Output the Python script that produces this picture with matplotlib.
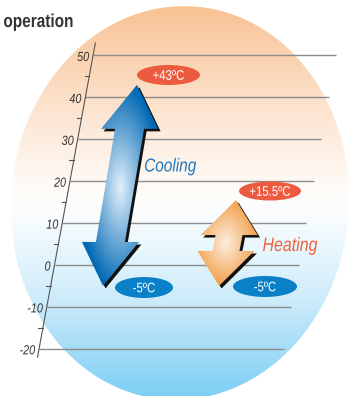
import numpy as np
import matplotlib
matplotlib.use("Agg")
import matplotlib.pyplot as plt
from matplotlib.patches import Polygon, Ellipse, PathPatch
from matplotlib.textpath import TextPath
from matplotlib.font_manager import FontProperties
from matplotlib.transforms import Affine2D

# ---- data ----
temp_ticks = [-20, -10, 0, 10, 20, 30, 40, 50]
minor_ticks = [-15, -5, 5, 15, 25, 35, 45]
cooling_range = [-5, 43]
heating_range = [-5, 15.5]
mode_labels = ["Cooling", "Heating"]
title = "operation"

plt.rcParams["font.family"] = ["Liberation Sans", "DejaVu Sans"]

W, H = 348, 396
PX = 4.19        # pixels per degree
ZERO_Y = 265     # pixel row of 0 degC
t_lo = (ZERO_Y - H) / PX
t_hi = ZERO_Y / PX


def axis_x(t):
    return 54.5 + 0.771 * np.asarray(t, dtype=float)


def grid_end(t):
    return 298.5 + 0.75 * np.asarray(t, dtype=float)


fig = plt.figure(figsize=(W / 100, H / 100), dpi=100)
fig.patch.set_facecolor("white")


def ntext(xy, s, size, ha="left", va="baseline", sx=0.82, weight="normal",
          style="normal", color="black", z=10):
    """condensed text: glyph outlines squeezed horizontally, xy in display px"""
    fp = FontProperties(family="Liberation Sans", weight=weight, style=style)
    tp = TextPath((0, 0), s, size=size, prop=fp)
    ext = tp.get_extents()
    ox = {"left": ext.x0, "center": (ext.x0 + ext.x1) / 2, "right": ext.x1}[ha]
    oy = {"baseline": 0, "center": (ext.y0 + ext.y1) / 2}[va]
    k = fig.dpi / 72
    tr = Affine2D().translate(-ox, -oy).scale(sx * k, k).translate(*xy)
    fig.add_artist(PathPatch(tp, transform=tr, lw=0, facecolor=color, zorder=z))


# ---- background ellipse with vertical gradient (pixel coords) ----
bg = fig.add_axes([0, 0, 1, 1])
bg.set_xlim(0, W)
bg.set_ylim(H, 0)
bg.axis("off")

stops_y = [0, 7, 60, 130, 190, 215, 300, 396]
stops_c = np.array([
    [248, 192, 145], [248, 194, 148], [250, 212, 178], [253, 234, 218],
    [255, 252, 249], [250, 253, 255], [205, 236, 250], [125, 206, 244],
]) / 255.0
rows = np.arange(H) + 0.5
col = np.stack([np.interp(rows, stops_y, stops_c[:, k]) for k in range(3)], axis=1)
img = np.repeat(col[:, None, :], W, axis=1)
im = bg.imshow(img, extent=(0, W, H, 0), origin="upper", aspect="auto", zorder=0)

th = np.deg2rad(4.5)
cx0, cy0, ea, eb = 180, 203, 169, 197
tt = np.linspace(0, 2 * np.pi, 400)
ex = cx0 + ea * np.cos(tt) * np.cos(th) + eb * np.sin(tt) * np.sin(th)
ey = cy0 + ea * np.cos(tt) * np.sin(th) - eb * np.sin(tt) * np.cos(th)
clip = Polygon(np.column_stack([ex, ey]), closed=True, facecolor="none", edgecolor="none")
bg.add_patch(clip)
im.set_clip_path(clip)

ntext((4, H - 27), title, 13.5, weight="bold", color="#333333")

# ---- main axes: x in pixels, y in degC ----
ax = fig.add_axes([0, 0, 1, 1])
ax.patch.set_alpha(0)
ax.axis("off")

ticks = np.array(temp_ticks, dtype=float)
ax.hlines(ticks, axis_x(ticks), grid_end(ticks), color="#8c8c8c", lw=1.0, zorder=2)
ax.plot(axis_x([-22, 53]), [-22, 53], color="#555555", lw=0.8, zorder=3)
for t in minor_ticks:
    ax.plot([axis_x(t) - 4.5, axis_x(t)], [t, t], color="#555555", lw=0.8, zorder=3)


def arrow_poly(x_bot, x_top, t_bot, t_top, hw, sw, hl_px):
    hl = hl_px / PX
    a, b = t_top - hl, t_bot + hl
    pts = [(0, t_top), (hw, a), (sw, a), (sw, b), (hw, b), (0, t_bot),
           (-hw, b), (-sw, b), (-sw, a), (-hw, a)]
    cx = lambda t: x_bot + (t - t_bot) * (x_top - x_bot) / (t_top - t_bot)
    return np.array([(cx(t) + dx, t) for dx, t in pts])


def draw_arrow(poly, center, rx, ry, light, dark, z):
    shadow = poly + np.array([2.5, -2.5 / PX])
    ax.add_patch(Polygon(shadow, closed=True, facecolor="#111111", edgecolor="none", zorder=z))
    x0, x1 = poly[:, 0].min() - 2, poly[:, 0].max() + 2
    t0, t1 = poly[:, 1].min() - 1, poly[:, 1].max() + 1
    X, T = np.meshgrid(np.linspace(x0, x1, 160), np.linspace(t0, t1, 320))
    r = np.hypot((X - center[0]) / rx, (T - center[1]) * PX / ry)
    f = np.clip(r, 0, 1)[..., None]
    light = np.array(light) / 255.0
    dark = np.array(dark) / 255.0
    g = light * (1 - f) + dark * f
    gi = ax.imshow(g, extent=(x0, x1, t0, t1), origin="lower", aspect="auto",
                   interpolation="bilinear", zorder=z + 1)
    p = Polygon(poly, closed=True, facecolor="none", edgecolor="none", zorder=z + 1)
    ax.add_patch(p)
    gi.set_clip_path(p)


cool = arrow_poly(103, 137, cooling_range[0], cooling_range[1], 28.5, 14.5, 44)
draw_arrow(cool, (120, (ZERO_Y - 188) / PX), 40, 105, (226, 240, 251), (0, 104, 180), 4)
heat = arrow_poly(219, 236, heating_range[0], heating_range[1], 28.5, 13.5, 35)
draw_arrow(heat, (226, (ZERO_Y - 243) / PX), 32, 44, (252, 238, 224), (243, 158, 72), 4)

ax.set_xlim(0, W)
ax.set_ylim(t_lo, t_hi)

# tick labels (after limits are fixed)
for t in temp_ticks:
    d = ax.transData.transform((axis_x(t) - 4, t))
    ntext((d[0], d[1] - 1), f"{t}", 9.5, ha="right", va="center",
          style="italic", color="#333333")


def oval(x, y_px, w, h, color, text):
    t = (ZERO_Y - y_px) / PX
    ax.add_patch(Ellipse((x, t), w, h / PX, facecolor=color, edgecolor="none", zorder=6))
    ntext(ax.transData.transform((x, t)), text, 10, ha="center", va="center", color="white")


RED, BLUE = "#ec5a40", "#0a80c8"
oval(168.5, 75, 63, 20, RED, f"+{cooling_range[1]:g}ºC")
oval(270, 191, 62, 19, RED, f"+{heating_range[1]:g}ºC")
oval(144, 287.5, 58, 21, BLUE, f"{cooling_range[0]:g}ºC")
oval(265, 286.5, 64, 21, BLUE, f"{heating_range[0]:g}ºC")

ntext((145, H - 171.5), mode_labels[0], 13.5, style="italic", color="#1f78c1")
ntext((263, H - 251), mode_labels[1], 14, style="italic", color="#ef623a")

fig.savefig("out.png", dpi=100)
